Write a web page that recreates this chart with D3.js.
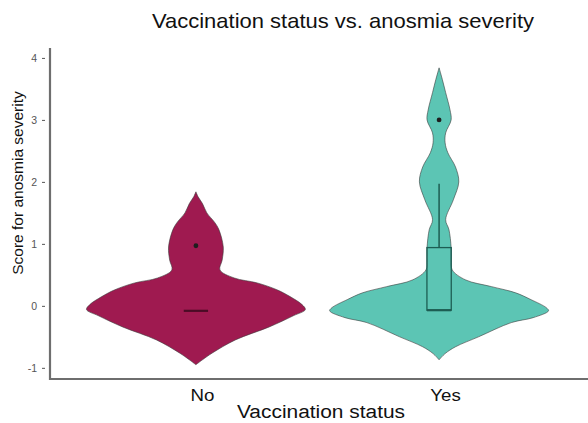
<!DOCTYPE html>
<html>
<head>
<meta charset="utf-8">
<script src="https://cdn.jsdelivr.net/npm/d3@7"></script>
<style>
body { margin: 0; background: #fff; }
text { font-family: "Liberation Sans", Arial, sans-serif; }
</style>
</head>
<body>
<svg id="chart" width="588" height="423"></svg>
<script>
var categories = ["No", "Yes"];
var fillColors = ["#9f1a50", "#5cc5b4"];
var lineColors = ["#4a0c25", "#1d5d53"];
var yTicks = [-1, 0, 1, 2, 3, 4];

// violin outlines: score and relative width
var noScores = [1.84, 1.76, 1.65, 1.50, 1.35, 1.23, 0.95, 0.74, 0.58, 0.45, 0.37, 0.26, 0.15, 0.02, -0.06, -0.16, -0.34, -0.55, -0.76, -0.87, -0.95];
var noWidths = [0, 0.02, 0.06, 0.10, 0.17, 0.21, 0.25, 0.24, 0.22, 0.35, 0.56, 0.74, 0.86, 0.97, 1, 0.89, 0.67, 0.36, 0.15, 0.06, 0];
var yesScores = [3.84, 3.65, 3.44, 3.16, 3.00, 2.79, 2.63, 2.47, 2.24, 2.00, 1.71, 1.39, 1.23, 0.94, 0.74, 0.58, 0.42, 0.31, 0.21, 0.10, -0.03, -0.08, -0.19, -0.27, -0.50, -0.66, -0.77, -0.87];
var yesWidths = [0, 0.03, 0.06, 0.10, 0.11, 0.06, 0.055, 0.08, 0.15, 0.18, 0.13, 0.06, 0.09, 0.11, 0.11, 0.12, 0.24, 0.48, 0.70, 0.84, 0.98, 1, 0.86, 0.66, 0.36, 0.15, 0.055, 0];

// boxplot numbers
var medians = [-0.08, -0.07];
var lowerQ = [-0.08, -0.07];
var upperQ = [-0.08, 0.94];
var whiskerHigh = [-0.08, 1.97];
var outliers = [0.97, 3.0];

var svg = d3.select("#chart");
var stretch = 1.1;

var x = d3.scalePoint().domain(categories).range([50, 585]).padding(0.6);
var y = d3.scaleLinear().domain([-1.18, 4.16]).range([379, 48]);
var w = d3.scaleLinear().domain([0, 1]).range([0, x.step() * 0.45]);
var boxW = x.step() * 0.1;

var violins = [
    {cat: "No", scores: noScores, widths: noWidths},
    {cat: "Yes", scores: yesScores, widths: yesWidths}
];

violins.forEach(function(v, i) {
    var cx = x(v.cat);
    var pts = v.scores.map(function(s, j) { return {s: s, w: v.widths[j]}; });
    var area = d3.area()
        .curve(d3.curveCatmullRom.alpha(0.5))
        .y(function(d) { return y(d.s); })
        .x0(function(d) { return cx - w(d.w); })
        .x1(function(d) { return cx + w(d.w); });
    svg.append("path")
        .attr("d", area(pts))
        .attr("fill", fillColors[i])
        .attr("stroke", "#3a3a3a")
        .attr("stroke-width", 0.6);
});

// boxes
categories.forEach(function(c, i) {
    var cx = x(c);
    var g = svg.append("g").attr("stroke", lineColors[i]).attr("fill", "none");
    if (whiskerHigh[i] > upperQ[i]) {
        g.append("line").attr("x1", cx).attr("x2", cx)
            .attr("y1", y(upperQ[i])).attr("y2", y(whiskerHigh[i]))
            .attr("stroke-width", 1.5);
    }
    if (upperQ[i] > lowerQ[i]) {
        g.append("rect")
            .attr("x", cx - boxW / 2).attr("width", boxW)
            .attr("y", y(upperQ[i])).attr("height", y(lowerQ[i]) - y(upperQ[i]))
            .attr("stroke-width", 1.3);
    }
    g.append("line")
        .attr("x1", cx - boxW / 2).attr("x2", cx + boxW / 2)
        .attr("y1", y(medians[i])).attr("y2", y(medians[i]))
        .attr("stroke-width", 2.2);
    svg.append("circle")
        .attr("cx", cx).attr("cy", y(outliers[i])).attr("r", 2.4)
        .attr("fill", "#1e1e1e");
});

// y axis
var yAxis = svg.append("g").attr("transform", "translate(50,0)")
    .call(d3.axisLeft(y).tickValues(yTicks).tickSize(3).tickPadding(10)
        .tickFormat(function(d) { return String(d); }));
yAxis.select(".domain").remove();
yAxis.selectAll(".tick line").attr("x1", -5).attr("x2", -8).attr("stroke", "#555");
yAxis.selectAll(".tick text").attr("font-size", 10.5).attr("fill", "#555")
    .style("font-family", "'Liberation Sans', Arial, sans-serif");

// x axis
var xAxis = svg.append("g").attr("transform", "translate(0,379)")
    .call(d3.axisBottom(x).tickSize(0).tickPadding(0));
xAxis.select(".domain").remove();
xAxis.selectAll(".tick text")
    .attr("font-size", 17).attr("fill", "#111").attr("dy", 0).attr("y", 22)
    .attr("transform", "translate(6,0) scale(" + stretch + ",1)")
    .style("font-family", "'Liberation Sans', Arial, sans-serif");

svg.append("line").attr("x1", 50).attr("x2", 50).attr("y1", 48).attr("y2", 380)
    .attr("stroke", "#6e6e6e").attr("stroke-width", 2.2);
svg.append("line").attr("x1", 49).attr("x2", 588).attr("y1", 379).attr("y2", 379)
    .attr("stroke", "#6e6e6e").attr("stroke-width", 2.2);

// labels
svg.append("text")
    .attr("transform", "translate(343,28) scale(" + stretch + ",1)")
    .attr("text-anchor", "middle").attr("font-size", 20).attr("fill", "#111")
    .text("Vaccination status vs. anosmia severity");
svg.append("text")
    .attr("transform", "translate(321,418) scale(" + stretch + ",1)")
    .attr("text-anchor", "middle").attr("font-size", 19).attr("fill", "#111")
    .text("Vaccination status");
svg.append("text")
    .attr("transform", "translate(23,183) rotate(-90)")
    .attr("text-anchor", "middle").attr("font-size", 15.5).attr("fill", "#111")
    .text("Score for anosmia severity");
</script>
</body>
</html>
